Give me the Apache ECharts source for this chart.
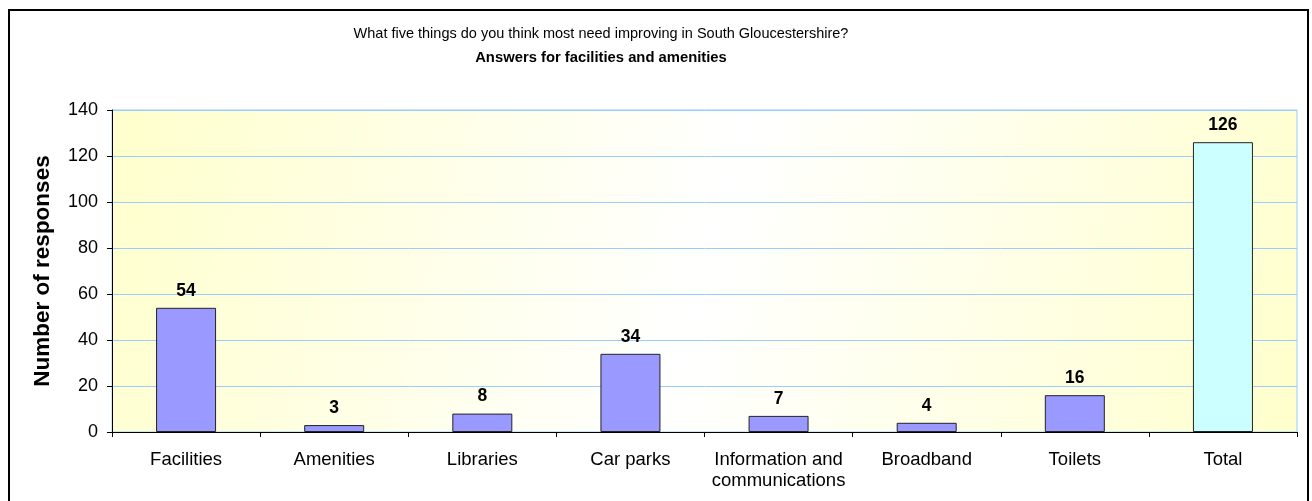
<!DOCTYPE html>
<html lang="en">
<head>
    <meta charset="UTF-8">
    <title>Facilities and amenities</title>
    <style>
        * { margin: 0; padding: 0; }
        body { background: #fff; }
        #chart { width: 1312px; height: 501px; }
    </style>
    <script src="https://cdn.jsdelivr.net/npm/echarts@6/dist/echarts.min.js"></script>
</head>
<body>
    <div id="chart"></div>
    <script>
        var categories = ['Facilities', 'Amenities', 'Libraries', 'Car parks', 'Information and\ncommunications', 'Broadband', 'Toilets', 'Total'];
        var responses = [54, 3, 8, 34, 7, 4, 16, 126];
        var yTicks = { min: 0, max: 140, step: 20 };

        var font = 'Arial, "Liberation Sans", sans-serif';
        var myChart = echarts.init(document.getElementById('chart'));

        // plot height 322 = 7 * 46 so the grid lines land on whole pixels
        var option = {
            animation: false,
            backgroundColor: '#fff',
            title: {
                text: 'What five things do you think most need improving in South Gloucestershire?',
                subtext: 'Answers for facilities and amenities',
                left: 601,
                top: 26,
                padding: 0,
                textAlign: 'center',
                itemGap: 9,
                textStyle: { fontFamily: font, fontSize: 14.5, fontWeight: 'normal', color: '#000' },
                subtextStyle: { fontFamily: font, fontSize: 14.8, fontWeight: 'bold', color: '#000' }
            },
            graphic: [{
                type: 'rect',
                shape: { x: 9, y: 10, width: 1299, height: 500 },
                style: { fill: 'none', stroke: '#000', lineWidth: 2 },
                silent: true
            }],
            grid: {
                left: 112,
                top: 110,
                right: 15,
                bottom: 69,
                show: true,
                borderColor: '#99ccff',
                borderWidth: 1,
                backgroundColor: {
                    type: 'linear', x: 0, y: 0, x2: 1, y2: 1,
                    colorStops: [
                        { offset: 0, color: '#ffffcc' },
                        { offset: 0.5, color: '#ffffff' },
                        { offset: 1, color: '#ffffcc' }
                    ]
                }
            },
            xAxis: {
                type: 'category',
                data: categories,
                axisLine: { lineStyle: { color: '#000', width: 1 } },
                axisTick: { show: true, length: 5, lineStyle: { color: '#000' } },
                axisLabel: { fontFamily: font, fontSize: 18.5, color: '#000', margin: 17, lineHeight: 21, interval: 0 },
                splitLine: { show: false }
            },
            yAxis: {
                type: 'value',
                min: yTicks.min,
                max: yTicks.max,
                interval: yTicks.step,
                name: 'Number of responses',
                nameLocation: 'middle',
                nameRotate: 90,
                nameGap: 58,
                nameTextStyle: { fontFamily: font, fontSize: 22.5, fontWeight: 'bold', color: '#000' },
                axisLine: { show: true, lineStyle: { color: '#000', width: 1 } },
                axisTick: { show: true, length: 5, lineStyle: { color: '#000' } },
                axisLabel: { fontFamily: font, fontSize: 18, color: '#000', margin: 14 },
                splitLine: { show: true, lineStyle: { color: '#99ccff', width: 1, opacity: 1 } }
            },
            series: [{
                type: 'bar',
                barWidth: 60,
                data: responses.map(function (v, i) {
                    var isTotal = categories[i] === 'Total';
                    return {
                        value: v,
                        itemStyle: { color: isTotal ? '#ccffff' : '#9999ff' }
                    };
                }),
                itemStyle: { borderColor: '#222', borderWidth: 1 },
                label: {
                    show: true,
                    position: 'top',
                    distance: 8,
                    fontFamily: font,
                    fontSize: 17.5,
                    fontWeight: 'bold',
                    color: '#000'
                }
            }]
        };

        myChart.setOption(option);
    </script>
</body>
</html>
